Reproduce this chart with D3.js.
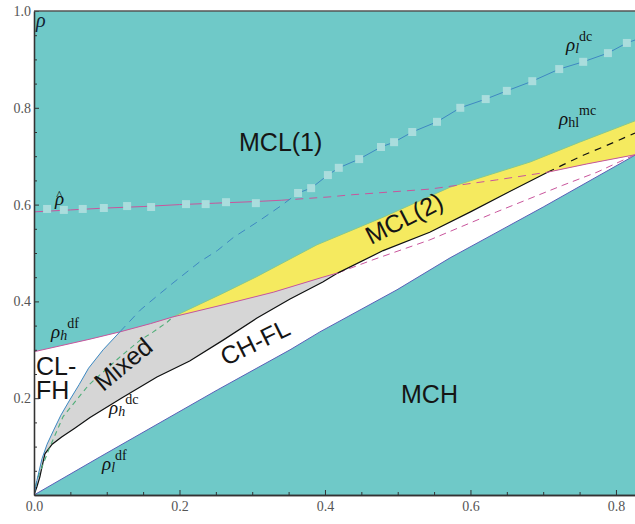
<!DOCTYPE html>
<html><head><meta charset="utf-8">
<script src="https://cdn.jsdelivr.net/npm/d3@7"></script>
<style>body{margin:0;background:#fff}</style>
</head><body>
<svg id="c" width="635" height="524"></svg>
<script>
// ---- tick data ----
const xTicks = [0, 0.2, 0.4, 0.6, 0.8];
const xTickLabels = ["0.0", "0.2", "0.4", "0.6", "0.8"];
const yTicks = [0.2, 0.4, 0.6, 0.8, 1.0];
const yTickLabels = ["0.2", "0.4", "0.6", "0.8", "1.0"];
const minorStep = 0.05;

// ---- curves (x = parameter, y = rho) ----
const rhoLdcSolid = [[0,0],[0.004,0.03],[0.011,0.075],[0.018,0.105],[0.027,0.134],[0.037,0.165],[0.049,0.196],[0.062,0.228],[0.075,0.262],[0.095,0.300],[0.118,0.337]];
const rhoLdcDashed = [[0.118,0.337],[0.146,0.382],[0.169,0.411],[0.191,0.438],[0.228,0.482],[0.252,0.505],[0.274,0.532],[0.311,0.568],[0.340,0.598],[0.363,0.624]];
const rhoLdcUpper = [[0.363,0.624],[0.381,0.634],[0.404,0.661],[0.419,0.676],[0.447,0.694],[0.477,0.719],[0.495,0.729],[0.520,0.750],[0.554,0.771],[0.586,0.800],[0.621,0.818],[0.650,0.835],[0.685,0.855],[0.722,0.880],[0.755,0.895],[0.789,0.913],[0.815,0.934],[0.8262,0.940]];
const rhoLdcSquares = [[0.363,0.624],[0.381,0.634],[0.404,0.661],[0.419,0.676],[0.447,0.694],[0.477,0.719],[0.495,0.729],[0.520,0.750],[0.554,0.771],[0.586,0.800],[0.621,0.818],[0.650,0.835],[0.685,0.855],[0.722,0.880],[0.755,0.895],[0.789,0.913],[0.815,0.934]];

const rhoHdf = [[0,0.296],[0.077,0.322],[0.118,0.337],[0.160,0.354],[0.191,0.368],[0.260,0.393],[0.329,0.419],[0.397,0.450],[0.418,0.459]];
const rhoHdfDashed = [[0.418,0.459],[0.466,0.486],[0.544,0.527],[0.636,0.585],[0.727,0.640],[0.774,0.667],[0.810,0.692],[0.8262,0.703]];

const rhoHdc = [[0,0],[0.004,0.017],[0.008,0.037],[0.011,0.058],[0.015,0.085],[0.025,0.105],[0.038,0.120],[0.056,0.138],[0.077,0.160],[0.120,0.200],[0.169,0.244],[0.214,0.277],[0.260,0.320],[0.306,0.365],[0.352,0.405],[0.397,0.440],[0.418,0.459],[0.480,0.505],[0.544,0.543],[0.600,0.585],[0.650,0.624],[0.706,0.667]];
const rhoHdcDashed = [[0.706,0.667],[0.727,0.682],[0.755,0.702],[0.782,0.719],[0.801,0.731],[0.8262,0.748]];

const rhoHatSolidL = [[0,0.585],[0.05,0.589],[0.10,0.593],[0.15,0.596],[0.20,0.600],[0.25,0.603],[0.30,0.606],[0.34,0.609]];
const rhoHatDashed = [[0.34,0.609],[0.407,0.616],[0.434,0.620],[0.544,0.632],[0.636,0.651],[0.706,0.667]];
const rhoHatSolidR = [[0.706,0.667],[0.760,0.684],[0.8262,0.703]];
const rhoHatSquares = [[0.018,0.591],[0.041,0.589],[0.067,0.591],[0.096,0.593],[0.128,0.597],[0.161,0.595],[0.209,0.601],[0.236,0.601],[0.264,0.605],[0.305,0.603]];

const rhoLdf = [[0,0],[0.091,0.079],[0.252,0.217],[0.352,0.300],[0.393,0.337],[0.499,0.424],[0.572,0.490],[0.700,0.595],[0.8262,0.702]];

const greenDashed = [[0,0],[0.004,0.031],[0.022,0.100],[0.040,0.162],[0.075,0.227],[0.118,0.285],[0.146,0.320],[0.164,0.337],[0.183,0.357],[0.191,0.368]];

const yellowTop = [[0.191,0.368],[0.260,0.417],[0.306,0.451],[0.389,0.517],[0.480,0.574],[0.572,0.636],[0.682,0.688],[0.750,0.729],[0.8262,0.773]];

// ---- layout ----
const W = 635, H = 524;
const x = d3.scaleLinear().domain([0, 0.8262]).range([34, 635]);
const y = d3.scaleLinear().domain([0, 1]).range([495, 11]);
const svg = d3.select("#c");

const C = {teal:"#6fc9c8", yellow:"#f5ea5f", grey:"#d6d6d6", white:"#ffffff",
  blue:"#3f88c2", pink:"#c9559c", black:"#111", green:"#4fae78", purple:"#5a60b8", square:"#aadddd"};

const line = d3.line().x(d=>x(d[0])).y(d=>y(d[1]));
svg.append("defs").append("clipPath").attr("id","pc").append("rect")
  .attr("x",x(0)).attr("y",y(1)).attr("width",x(0.8262)-x(0)).attr("height",y(0)-y(1));
const g = svg.append("g").attr("clip-path","url(#pc)");

g.append("rect").attr("x",x(0)).attr("y",y(1)).attr("width",x(0.8262)-x(0)).attr("height",y(0)-y(1)).attr("fill",C.teal);

// regions
const rev = a => a.slice().reverse();
const chfl = rhoHdc.concat(rhoHatSolidR.slice(1)).concat(rev(rhoLdf));
g.append("path").attr("d", line(chfl)+"Z").attr("fill",C.white);

const yel = yellowTop.concat(rev(rhoHatSolidR)).concat(rev(rhoHdc.filter(d=>d[0]>=0.418))).concat(rev(rhoHdf.filter(d=>d[0]>0.191 && d[0]<0.418)));
g.append("path").attr("d", line(yel)+"Z").attr("fill",C.yellow);

const mixed = rhoLdcSolid.concat(rhoHdf.filter(d=>d[0]>0.118)).concat(rev(rhoHdc.filter(d=>d[0]<0.418)));
g.append("path").attr("d", line(mixed)+"Z").attr("fill",C.grey);

const clfh = [[0,0]].concat(rhoHdf.filter(d=>d[0]<=0.118)).concat(rev(rhoLdcSolid));
g.append("path").attr("d", line(clfh)+"Z").attr("fill",C.white);

// lines
function L(data, color, w, dash){
  const p = g.append("path").attr("d", line(data)).attr("fill","none").attr("stroke",color).attr("stroke-width",w);
  if (dash) p.attr("stroke-dasharray",dash);
  return p;
}
L(yellowTop, "#86c98e", 1);
L(rhoLdf, C.purple, 1);
L(rhoHdfDashed, C.pink, 1, "7,5");
L(rhoHdc, C.black, 1.2);
L(rhoHdcDashed, C.black, 1.2, "7,6");
L(rhoHdf, C.pink, 1);
L(rhoHatSolidL, C.pink, 1);
L(rhoHatDashed, C.pink, 1, "8,6");
L(rhoHatSolidR, C.pink, 1);
L(greenDashed, C.green, 1.1, "5,4");
L(rhoLdcSolid, C.blue, 1);
L(rhoLdcDashed, C.blue, 1, "8,6");
L(rhoLdcUpper, C.blue, 1);

const sq = 8;
g.selectAll("rect.s1").data(rhoHatSquares.concat(rhoLdcSquares)).enter().append("rect")
  .attr("x",d=>x(d[0])-sq/2).attr("y",d=>y(d[1])-sq/2).attr("width",sq).attr("height",sq).attr("fill",C.square);

// region labels
const sans = "'Liberation Sans', Arial, sans-serif";
function T(txt, px, py, rot, size){
  svg.append("text").attr("transform",`translate(${px},${py}) rotate(${rot||0})`)
    .attr("text-anchor","middle").attr("dominant-baseline","central")
    .attr("font-family",sans).attr("font-size",size||25).attr("fill","#151515").text(txt);
}
svg.append("text").attr("x",239).attr("y",151).attr("font-family",sans).attr("font-size",25).attr("fill","#151515").text("MCL(1)");
svg.append("text").attr("x",401).attr("y",403).attr("font-family",sans).attr("font-size",25).attr("fill","#151515").text("MCH");
const cl = svg.append("text").attr("font-family",sans).attr("font-size",25).attr("fill","#151515");
cl.append("tspan").attr("x",36).attr("y",375).text("CL-");
cl.append("tspan").attr("x",36).attr("y",399).text("FH");
T("Mixed", 123, 364, -40);
T("CH-FL", 255, 342, -26);
T("MCL(2)", 404, 218, -27);

// greek labels
const serif = "'Liberation Serif', 'Times New Roman', serif";
function G(px, py, sub, sup, subItalic){
  const t = svg.append("text").attr("x",px).attr("y",py).attr("font-family",serif).attr("fill","#111");
  t.append("tspan").attr("font-style","italic").attr("font-size",19).text("ρ");
  t.append("tspan").attr("font-style",subItalic?"italic":"normal").attr("font-size",14).attr("dy",2).text(sub);
  t.append("tspan").attr("font-size",14).attr("dy",-12).text(sup);
}
G(51, 338, "h", "df", true);
G(109, 414, "h", "dc", true);
G(102, 470, "l", "df", true);
G(566, 51, "l", "dc", true);
G(559, 125, "hl", "mc", false);

svg.append("text").attr("x",36).attr("y",27).attr("font-family",serif).attr("font-style","italic").attr("font-size",20).attr("fill","#123").text("ρ");
const rh = svg.append("text").attr("x",55).attr("y",205).attr("font-family",serif).attr("fill","#111");
rh.append("tspan").attr("font-style","italic").attr("font-size",19).text("ρ");
rh.append("tspan").attr("font-size",13).attr("dx",-8).attr("dy",-6).text("^");

// axes
const minorX = d3.range(0, 0.8262, minorStep).filter(v=>xTicks.every(t=>Math.abs(t-v)>1e-6));
const minorY = d3.range(0, 1.0001, minorStep).filter(v=>[0].concat(yTicks).every(t=>Math.abs(t-v)>1e-6));

const ax = svg.append("g").attr("transform",`translate(0,${y(0)})`)
  .call(d3.axisBottom(x).tickValues(xTicks).tickFormat((d,i)=>xTickLabels[i]).tickSize(-5).tickSizeOuter(0).tickPadding(6));
const axm = svg.append("g").attr("transform",`translate(0,${y(0)})`)
  .call(d3.axisBottom(x).tickValues(minorX).tickFormat("").tickSize(-3).tickSizeOuter(0));
const ay = svg.append("g").attr("transform",`translate(${x(0)},0)`)
  .call(d3.axisLeft(y).tickValues(yTicks).tickFormat((d,i)=>yTickLabels[i]).tickSize(-5).tickSizeOuter(0).tickPadding(3));
const aym = svg.append("g").attr("transform",`translate(${x(0)},0)`)
  .call(d3.axisLeft(y).tickValues(minorY).tickFormat("").tickSize(-3).tickSizeOuter(0));
[ax,axm,ay,aym].forEach(a=>{
  a.selectAll("path.domain").attr("stroke","#333").attr("stroke-width",1.3);
  a.selectAll(".tick line").attr("stroke","#333");
  a.selectAll("text").attr("font-family",serif).attr("font-size",14).attr("fill","#555");
});
svg.append("line").attr("x1",x(0)).attr("x2",W).attr("y1",y(1)).attr("y2",y(1)).attr("stroke","#555").attr("stroke-width",1.6);
</script>
</body></html>
